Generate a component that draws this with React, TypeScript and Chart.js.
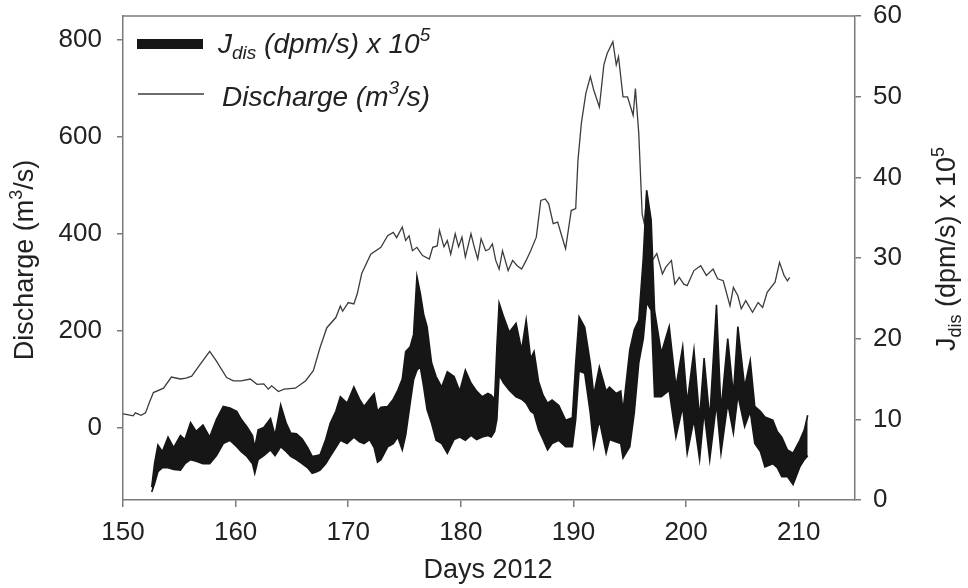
import React, { useEffect, useRef } from "react";
import { Chart, registerables } from "chart.js";

Chart.register(...registerables);

// Discharge (m3/s), left axis
const dischargeDays = [
  150.0, 150.5, 150.9, 151.1, 151.6, 152.0, 152.4, 152.7, 153.6, 154.3, 155.1, 155.6, 156.1, 156.85, 157.7, 158.3,
  159.2, 159.8, 160.5, 161.3, 161.9, 162.5, 162.9, 163.2, 163.8, 164.3, 165.3, 166.2, 166.9, 167.5, 168.1, 168.9,
  169.3, 169.5, 170.0, 170.5, 170.8, 171.2, 172.0, 172.9, 173.5, 174.0, 174.3, 174.8, 175.1, 175.4, 175.7, 176.1,
  176.6, 177.2, 177.5, 177.9, 178.1, 178.5, 178.8, 179.1, 179.5, 179.8, 180.1, 180.4, 180.9, 181.2, 181.5, 181.8,
  182.2, 182.5, 182.8, 183.1, 183.4, 183.7, 184.2, 184.6, 185.0, 185.4, 185.8, 186.2, 186.7, 187.1, 187.5, 187.8,
  188.2, 188.6, 188.9, 189.3, 189.8, 190.2, 190.4, 190.7, 191.1, 191.5, 191.8, 192.3, 192.7, 193.0, 193.5, 193.8,
  194.0, 194.4, 194.8, 195.3, 195.5, 195.8, 196.1, 196.3, 196.5, 197.0, 197.4, 197.9, 198.2, 198.7, 199.0, 199.4,
  199.8, 200.1, 200.7, 201.3, 201.8, 202.4, 202.8, 203.3, 203.9, 204.2, 204.6, 204.9, 205.3, 205.9, 206.4, 206.8,
  207.2, 207.9, 208.3, 208.7, 209.0, 209.2,
];
const dischargeValues = [
  28, 26, 24, 30, 25, 30, 55, 72, 81, 104, 100, 102, 106, 130, 157, 137,
  103, 96, 96, 100, 89, 90, 79, 86, 74, 79, 81, 96, 117, 165, 206, 227,
  251, 240, 258, 255, 276, 318, 358, 372, 396, 403, 392, 414, 386, 396, 365, 372,
  355, 348, 372, 375, 407, 373, 386, 358, 400, 373, 393, 352, 400, 372, 348, 390,
  365, 368, 379, 345, 327, 365, 324, 345, 334, 327, 345, 365, 393, 469, 472, 462,
  421, 424, 400, 369, 448, 452, 552, 628, 690, 725, 697, 662, 749, 773, 797, 749,
  766, 683, 683, 645, 700, 607, 441, 420, 483, 345, 359, 317, 331, 345, 296, 310,
  296, 293, 324, 334, 314, 327, 307, 303, 251, 289, 272, 245, 262, 238, 258, 248,
  279, 300, 341, 314, 303, 310,
];

// Jdis (dpm/s) x 10^5, right axis: upper and lower edges of the band
const jDays = [
  152.55, 152.8, 153.1, 153.5, 154.0, 154.5, 155.1, 155.5, 156.0, 156.5, 157.1, 157.7, 158.3, 158.9, 159.5, 160.1,
  160.5, 161.0, 161.5, 161.7, 162.0, 162.5, 163.1, 163.5, 164.0, 164.5, 164.9, 165.4, 165.9, 166.4, 166.8, 167.2,
  167.5, 168.0, 168.4, 168.9, 169.3, 169.9, 170.5, 171.0, 171.4, 171.9, 172.3, 172.6, 172.9, 173.5, 174.0, 174.4,
  174.8, 175.1, 175.5, 175.8, 176.1, 176.4, 176.7, 177.0, 177.4, 177.8, 178.3, 178.8, 179.4, 179.9, 180.4, 180.9,
  181.4, 181.9, 182.4, 182.7, 183.0, 183.2, 183.4, 183.8, 184.3, 184.9, 185.4, 185.8, 186.2, 186.5, 186.9, 187.3,
  187.7, 188.1, 188.7, 189.3, 189.9, 190.2, 190.5, 191.0, 191.5, 191.8, 192.3, 192.9, 193.2, 193.8, 194.2, 194.4,
  195.0, 195.4, 195.8, 196.2, 196.5, 196.9, 197.2, 197.8, 198.5, 199.1, 199.7, 200.1, 200.7, 201.2, 201.6, 202.1,
  202.7, 203.1, 203.7, 204.2, 204.6, 205.2, 205.7, 206.1, 206.6, 207.0, 207.7, 208.1, 208.5, 209.0, 209.5, 210.1,
  210.5, 210.8,
];
const jUpper = [
  1.6, 4.5, 6.8, 6.0, 7.8, 6.5, 8.0, 7.5, 9.6, 8.5, 9.3, 7.8, 10.0, 11.6, 11.4, 11.0,
  10.0, 9.1, 8.0, 6.5, 8.7, 9.0, 10.1, 8.0, 11.8, 9.5, 8.3, 8.2, 7.6, 6.5, 5.4, 5.5,
  5.6, 7.5, 9.5, 11.0, 12.8, 12.0, 14.0, 12.5, 11.6, 12.5, 13.2, 11.0, 11.5, 11.6, 12.5, 13.6,
  15.0, 18.4, 19.0, 20.5, 27.7, 25.6, 23.0, 21.5, 17.0, 15.3, 14.0, 15.9, 15.3, 13.5, 16.1, 14.5,
  13.5, 12.8, 13.2, 13.0, 12.5, 19.0, 24.4, 22.7, 20.8, 21.9, 18.6, 22.3, 17.5, 18.4, 14.7, 13.0,
  12.0, 12.4, 11.7, 9.9, 10.2, 17.0, 22.7, 21.4, 16.9, 13.0, 16.5, 13.5, 14.0, 13.2, 13.5, 11.0,
  18.6, 21.1, 22.3, 30.0, 38.4, 34.7, 23.5, 18.2, 21.5, 14.0, 19.0, 12.0, 18.6, 10.0, 17.6, 10.0,
  24.2, 11.0, 20.0, 13.0, 21.5, 14.0, 17.3, 11.6, 11.0, 10.3, 9.9, 8.5, 7.8, 6.2, 5.8, 7.4,
  8.7, 10.5,
];
const jLower = [
  1.0, 2.0, 3.5, 4.0, 4.0, 3.8, 3.7, 4.5, 5.0, 4.8, 4.5, 4.5, 5.5, 7.0, 7.4, 6.6,
  6.0, 5.4, 4.5, 3.3, 5.0, 5.5, 6.2, 5.5, 6.6, 6.0, 5.4, 5.0, 4.5, 4.0, 3.3, 3.5,
  3.7, 4.5, 5.4, 6.5, 7.4, 7.0, 7.8, 7.2, 7.0, 7.5, 6.5, 4.7, 5.0, 6.6, 7.0, 7.8,
  6.2, 8.0, 12.0, 14.9, 16.1, 16.5, 14.0, 11.2, 9.5, 7.4, 7.0, 5.8, 7.5, 7.8, 7.4, 8.0,
  7.5, 7.8, 8.0, 7.8, 8.5, 10.0, 15.5, 14.5, 13.6, 12.8, 12.5, 12.0, 11.0, 10.7, 8.7, 7.5,
  6.2, 7.0, 7.4, 6.6, 6.6, 10.0, 16.0, 15.7, 10.7, 6.6, 9.9, 5.8, 7.5, 7.2, 7.0, 5.2,
  6.6, 10.8, 17.0, 20.0, 24.5, 23.5, 12.8, 12.8, 13.6, 7.8, 11.6, 5.8, 10.0, 5.0, 11.0, 5.0,
  12.0, 5.8, 12.0, 8.3, 13.0, 9.1, 11.0, 7.0, 6.0, 4.1, 4.5, 4.0, 2.9, 2.9, 1.9, 4.1,
  5.0, 5.5,
];

const xTicks = [150, 160, 170, 180, 190, 200, 210];
const leftTicks = [0, 200, 400, 600, 800];
const rightTicks = [0, 10, 20, 30, 40, 50, 60];

const FONT = "'Liberation Sans', Arial, Helvetica, sans-serif";
const AXIS_COLOR = "#7a7a7a";
const TEXT_COLOR = "#222";
const J_COLOR = "#161616";
const Q_COLOR = "#3c3c3c";

// target plot frame inside the 968x588 canvas
const AREA = { left: 123, right: 855, top: 16, bottom: 500 };

type Seg = { t: string; size: number; dy?: number };

function drawRich(ctx: CanvasRenderingContext2D, segs: Seg[], x: number, y: number, italic: boolean, align: "left" | "center") {
  const style = italic ? "italic " : "";
  let total = 0;
  for (const s of segs) {
    ctx.font = `${style}${s.size}px ${FONT}`;
    total += ctx.measureText(s.t).width;
  }
  let cx = align === "center" ? x - total / 2 : x;
  ctx.textAlign = "left";
  ctx.textBaseline = "alphabetic";
  for (const s of segs) {
    ctx.font = `${style}${s.size}px ${FONT}`;
    ctx.fillText(s.t, cx, y + (s.dy || 0));
    cx += ctx.measureText(s.t).width;
  }
}

const decorPlugin = {
  id: "decor",
  afterDraw(chart: any) {
    const ctx: CanvasRenderingContext2D = chart.ctx;
    const a = chart.chartArea;
    ctx.save();
    // top frame line
    ctx.strokeStyle = AXIS_COLOR;
    ctx.lineWidth = 1.5;
    ctx.beginPath();
    ctx.moveTo(a.left, a.top);
    ctx.lineTo(a.right, a.top);
    ctx.stroke();

    // legend
    ctx.strokeStyle = J_COLOR;
    ctx.lineWidth = 10;
    ctx.lineCap = "butt";
    ctx.beginPath();
    ctx.moveTo(137, 44);
    ctx.lineTo(203, 44);
    ctx.stroke();
    ctx.strokeStyle = Q_COLOR;
    ctx.lineWidth = 1.3;
    ctx.beginPath();
    ctx.moveTo(138, 94);
    ctx.lineTo(204, 94);
    ctx.stroke();

    ctx.fillStyle = TEXT_COLOR;
    drawRich(ctx, [
      { t: "J", size: 28 },
      { t: "dis", size: 19, dy: 6 },
      { t: " (dpm/s) x 10", size: 28 },
      { t: "5", size: 19, dy: -12 },
    ], 218, 53, true, "left");
    drawRich(ctx, [
      { t: "Discharge (m", size: 28 },
      { t: "3", size: 19, dy: -12 },
      { t: "/s)", size: 28 },
    ], 222, 106, true, "left");

    // x axis title
    drawRich(ctx, [{ t: "Days 2012", size: 27 }], 488, 578, false, "center");

    // left axis title
    ctx.save();
    ctx.translate(33, 260);
    ctx.rotate(-Math.PI / 2);
    drawRich(ctx, [
      { t: "Discharge (m", size: 27 },
      { t: "3", size: 18, dy: -11 },
      { t: "/s)", size: 27 },
    ], 0, 0, false, "center");
    ctx.restore();

    // right axis title
    ctx.save();
    ctx.translate(955, 249);
    ctx.rotate(-Math.PI / 2);
    drawRich(ctx, [
      { t: "J", size: 27 },
      { t: "dis", size: 18, dy: 6 },
      { t: " (dpm/s) x 10", size: 27 },
      { t: "5", size: 18, dy: -11 },
    ], 0, 0, false, "center");
    ctx.restore();

    ctx.restore();
  },
};

export default function App() {
  const ref = useRef<HTMLCanvasElement | null>(null);

  useEffect(() => {
    if (!ref.current) return;
    const upper = jDays.map((d, i) => ({ x: d, y: jUpper[i] }));
    const lower = jDays.map((d, i) => ({ x: d, y: jLower[i] }));
    const disc = dischargeDays.map((d, i) => ({ x: d, y: dischargeValues[i] }));
    const tickFont = { family: FONT, size: 26 };

    const chart = new Chart(ref.current, {
      type: "line",
      data: {
        datasets: [
          {
            label: "Jdis upper",
            data: upper,
            yAxisID: "yR",
            borderColor: J_COLOR,
            borderWidth: 1.6,
            pointRadius: 0,
            fill: false,
            tension: 0,
          },
          {
            label: "Jdis lower",
            data: lower,
            yAxisID: "yR",
            borderColor: J_COLOR,
            backgroundColor: J_COLOR,
            borderWidth: 1.6,
            pointRadius: 0,
            fill: "-1",
            tension: 0,
          },
          {
            label: "Discharge",
            data: disc,
            yAxisID: "yL",
            borderColor: Q_COLOR,
            borderWidth: 1.3,
            pointRadius: 0,
            fill: false,
            tension: 0,
          },
        ],
      },
      options: {
        responsive: false,
        animation: false,
        events: [],
        layout: { padding: { top: AREA.top, left: 0, right: 0, bottom: 0 } },
        plugins: {
          legend: { display: false },
          tooltip: { enabled: false },
          title: { display: false },
        },
        scales: {
          x: {
            type: "linear",
            position: "bottom",
            min: 150,
            max: 215,
            afterBuildTicks: (s: any) => {
              s.ticks = xTicks.map((v) => ({ value: v }));
            },
            afterFit: (s: any) => {
              s.height = 588 - AREA.bottom;
              s.paddingLeft = 0;
              s.paddingRight = 0;
            },
            grid: { drawOnChartArea: false, drawTicks: true, tickLength: 7, color: AXIS_COLOR, lineWidth: 1.5 },
            border: { display: true, color: AXIS_COLOR, width: 1.5 },
            ticks: { font: tickFont, color: TEXT_COLOR, padding: 10, maxRotation: 0, autoSkip: false },
          },
          yL: {
            type: "linear",
            position: "left",
            min: -150,
            max: 850,
            afterBuildTicks: (s: any) => {
              s.ticks = leftTicks.map((v) => ({ value: v }));
            },
            afterFit: (s: any) => {
              s.width = AREA.left;
              s.paddingTop = 0;
              s.paddingBottom = 0;
            },
            grid: { drawOnChartArea: false, drawTicks: true, tickLength: 6, color: AXIS_COLOR, lineWidth: 1.5 },
            border: { display: true, color: AXIS_COLOR, width: 1.5 },
            ticks: { font: tickFont, color: TEXT_COLOR, padding: 15, autoSkip: false },
          },
          yR: {
            type: "linear",
            position: "right",
            min: 0,
            max: 60,
            afterBuildTicks: (s: any) => {
              s.ticks = rightTicks.map((v) => ({ value: v }));
            },
            afterFit: (s: any) => {
              s.width = 968 - AREA.right;
              s.paddingTop = 0;
              s.paddingBottom = 0;
            },
            grid: { drawOnChartArea: false, drawTicks: true, tickLength: 6, color: AXIS_COLOR, lineWidth: 1.5 },
            border: { display: true, color: AXIS_COLOR, width: 1.5 },
            ticks: { font: tickFont, color: TEXT_COLOR, padding: 12, autoSkip: false },
          },
        },
      },
      plugins: [decorPlugin],
    } as any);

    // correct any residual offset of the plot frame from the target
    const ca = chart.chartArea;
    const dTop = AREA.top - ca.top;
    const dBottom = ca.bottom - AREA.bottom;
    if (Math.abs(dTop) > 0.5 || Math.abs(dBottom) > 0.5) {
      const p: any = (chart.options as any).layout.padding;
      p.top = Math.max(0, p.top + dTop);
      p.bottom = Math.max(0, p.bottom + dBottom);
      chart.update();
    }

    return () => chart.destroy();
  }, []);

  return (
    <div style={{ position: "absolute", left: 0, top: 0, width: 968, height: 588, background: "#fff" }}>
      <canvas ref={ref} width={968} height={588} style={{ display: "block", width: 968, height: 588 }} />
    </div>
  );
}
